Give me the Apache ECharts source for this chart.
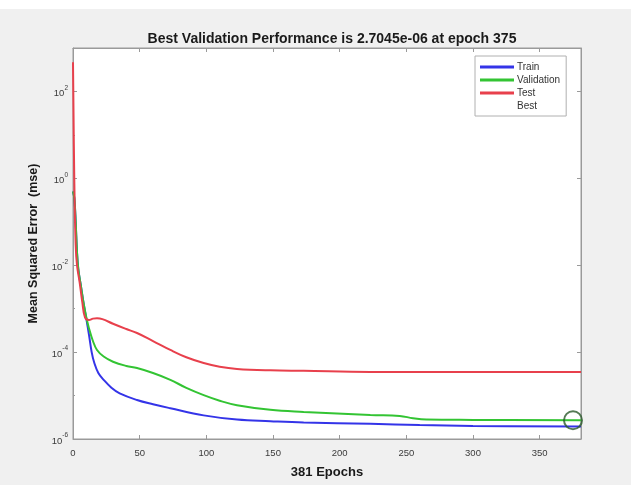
<!DOCTYPE html>
<html>
<head>
<meta charset="utf-8">
<script src="https://cdn.jsdelivr.net/npm/echarts@6/dist/echarts.min.js"></script>
<style>
  html, body { margin: 0; padding: 0; background: #ffffff; }
  #chart { position: absolute; left: 0; top: 9px; width: 631px; height: 476px; background: #f0f0f0; }
</style>
</head>
<body>
<div id="chart"></div>
<script>
// ---- data ----
const titleText = 'Best Validation Performance is 2.7045e-06 at epoch 375';
const xLabel = '381 Epochs';
const yLabel = 'Mean Squared Error  (mse)';
const seriesNames = ['Train', 'Validation', 'Test', 'Best'];
const totalEpochs = 381;
const xTicks = [0, 50, 100, 150, 200, 250, 300, 350];
const yTickExponents = [-6, -4, -2, 0, 2];

const trainEpochs = [0, 1, 2, 3, 4, 6, 8, 10, 12, 14, 16, 19, 23, 29, 35, 48, 60, 73, 98, 123, 148, 173, 223, 260, 300, 381];
const trainMse = [0.5, 0.35, 0.1, 0.02, 8.0e-3, 3.2e-3, 1.3e-3, 5.8e-4, 2.5e-4, 1.0e-4, 5.6e-5, 3.3e-5, 2.3e-5, 1.5e-5, 1.12e-5, 7.9e-6, 6.3e-6, 5.1e-6, 3.5e-6, 2.8e-6, 2.57e-6, 2.4e-6, 2.24e-6, 2.09e-6, 2.0e-6, 1.95e-6];

const valEpochs = [0, 1, 2, 3, 4, 6, 8, 10, 12, 15, 18, 23, 30, 40, 48, 60, 73, 85, 98, 110, 123, 148, 173, 223, 245, 255, 265, 300, 381];
const valMse = [0.5, 0.35, 0.1, 0.02, 8.0e-3, 3.2e-3, 1.3e-3, 6.3e-4, 3.5e-4, 1.78e-4, 1.12e-4, 7.9e-5, 6.0e-5, 4.8e-5, 4.3e-5, 3.3e-5, 2.3e-5, 1.5e-5, 1.02e-5, 7.6e-6, 6.0e-6, 4.7e-6, 4.2e-6, 3.55e-6, 3.4e-6, 3.0e-6, 2.8e-6, 2.75e-6, 2.7e-6];

const testEpochs = [0, 1, 2, 3, 5, 7, 9, 12, 15, 18, 22, 30, 40, 48, 60, 73, 85, 98, 110, 123, 148, 173, 223, 300, 381];
const testMse = [470, 0.8, 0.03, 0.01, 4.0e-3, 1.4e-3, 6.3e-4, 5.5e-4, 5.9e-4, 6.0e-4, 5.75e-4, 4.5e-4, 3.4e-4, 2.75e-4, 1.8e-4, 1.12e-4, 7.6e-5, 5.6e-5, 4.6e-5, 4.1e-5, 3.8e-5, 3.7e-5, 3.5e-5, 3.5e-5, 3.5e-5];

const bestEpoch = 375;
const bestMse = 2.7045e-6;

// ---- build ----
const toPts = (xs, ys) => xs.map((x, i) => [x, Math.log10(ys[i])]);
const font = "'Liberation Sans', Arial, Helvetica, sans-serif";
const axisColor = '#9a9a9a';
const labelColor = '#3a3a3a';

const chart = echarts.init(document.getElementById('chart'), null, { renderer: 'canvas' });

const lineSeries = (name, xs, ys, color) => ({
  name, type: 'line', data: toPts(xs, ys), xAxisIndex: 0, yAxisIndex: 0,
  symbol: 'none', smooth: 0.4,
  lineStyle: { color, width: 2 }, itemStyle: { color },
  z: 3
});

chart.setOption({
  backgroundColor: '#f0f0f0',
  animation: false,
  textStyle: { fontFamily: font },
  title: {
    text: titleText, left: 327, top: 18, textAlign: 'center',
    textStyle: { fontSize: 14, fontWeight: 'bold', color: '#1a1a1a', fontFamily: font }
  },
  grid: { left: 73, right: 50, top: 39, bottom: 46, show: true, backgroundColor: '#ffffff', borderColor: axisColor, borderWidth: 1 },
  legend: {
    left: 475, top: 47, orient: 'vertical', itemWidth: 34, itemHeight: 3, itemGap: 3,
    padding: [6, 6, 5, 5], backgroundColor: '#ffffff', borderColor: '#b0b0b0', borderWidth: 1, borderRadius: 0,
    icon: 'rect',
    textStyle: { fontSize: 10, color: '#333', fontFamily: font, padding: [0, 0, 0, -2] },
    data: [
      { name: 'Train' }, { name: 'Validation' }, { name: 'Test' },
      { name: 'Best', itemStyle: { color: 'rgba(0,0,0,0)', borderWidth: 0, opacity: 0 } }
    ]
  },
  xAxis: [{
    type: 'value', min: 0, max: totalEpochs, interval: 50,
    name: xLabel, nameLocation: 'middle', nameGap: 27,
    nameTextStyle: { fontSize: 13, fontWeight: 'bold', color: '#1a1a1a', fontFamily: font },
    axisLine: { show: true, onZero: false, lineStyle: { color: axisColor } },
    axisTick: { show: true, inside: true, length: 4, lineStyle: { color: axisColor } },
    axisLabel: { fontSize: 9.5, color: labelColor, margin: 9, fontFamily: font,
      formatter: v => (xTicks.indexOf(v) >= 0 ? String(v) : '') },
    splitLine: { show: false }
  }, {
    type: 'value', min: 0, max: totalEpochs, interval: 50, position: 'top',
    axisLine: { show: true, onZero: false, lineStyle: { color: axisColor } },
    axisTick: { show: true, inside: true, length: 4, lineStyle: { color: axisColor } },
    axisLabel: { show: false }, splitLine: { show: false }
  }],
  yAxis: [{
    type: 'value', min: -6, max: 3, interval: 2,
    name: yLabel, nameLocation: 'middle', nameGap: 33, nameRotate: 90,
    nameTextStyle: { fontSize: 12.5, fontWeight: 'bold', color: '#1a1a1a', fontFamily: font },
    axisLine: { show: true, onZero: false, lineStyle: { color: axisColor } },
    axisTick: { show: true, inside: true, length: 4, lineStyle: { color: axisColor } },
    minorTick: { show: true, splitNumber: 2, length: 2, lineStyle: { color: axisColor } },
    axisLabel: {
      margin: 5, fontFamily: font,
      formatter: v => (yTickExponents.indexOf(v) >= 0 ? '{b|10}{s|' + v + '}' : ''),
      rich: {
        b: { fontSize: 9.5, color: labelColor, lineHeight: 14, verticalAlign: 'bottom', fontFamily: font },
        s: { fontSize: 6.5, color: labelColor, lineHeight: 8, verticalAlign: 'top', fontFamily: font }
      }
    },
    splitLine: { show: false }
  }, {
    type: 'value', min: -6, max: 3, interval: 2, position: 'right',
    axisLine: { show: true, onZero: false, lineStyle: { color: axisColor } },
    axisTick: { show: true, inside: true, length: 4, lineStyle: { color: axisColor } },
    axisLabel: { show: false }, splitLine: { show: false }
  }],
  series: [
    lineSeries(seriesNames[0], trainEpochs, trainMse, '#3434e8'),
    lineSeries(seriesNames[1], valEpochs, valMse, '#33c433'),
    lineSeries(seriesNames[2], testEpochs, testMse, '#e8404c'),
    {
      name: seriesNames[3], type: 'scatter', xAxisIndex: 0, yAxisIndex: 0,
      data: [[bestEpoch, Math.log10(bestMse)]],
      symbol: 'circle', symbolSize: 18,
      itemStyle: { color: 'rgba(0,0,0,0)', borderColor: '#2a5a2a', borderWidth: 2 },
      z: 5
    }
  ]
});
</script>
</body>
</html>
